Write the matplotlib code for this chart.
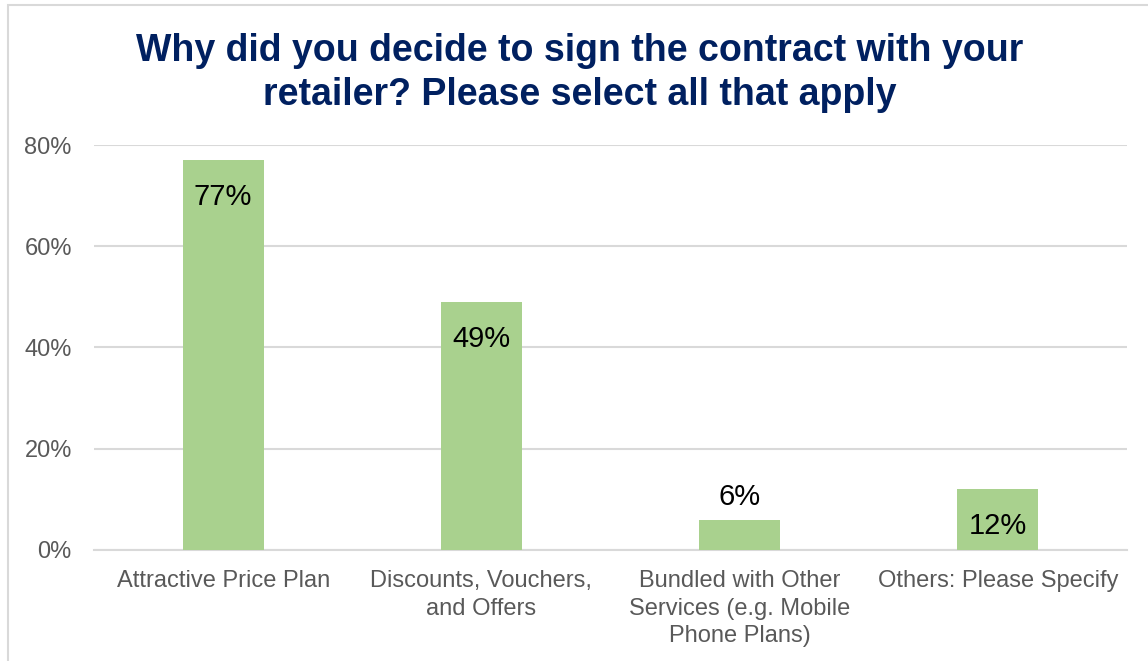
import matplotlib.pyplot as plt
import matplotlib.patches as patches
from matplotlib.ticker import PercentFormatter

# data
categories = ['Attractive Price Plan',
              'Discounts, Vouchers,\nand Offers',
              'Bundled with Other\nServices (e.g. Mobile\nPhone Plans)',
              'Others: Please Specify']
values = [0.77, 0.49, 0.06, 0.12]
labels = ['77%', '49%', '6%', '12%']
yticks = [0, 0.2, 0.4, 0.6, 0.8]

plt.rcParams['font.family'] = ['Liberation Sans', 'DejaVu Sans']

fig = plt.figure(figsize=(11.48, 6.61), dpi=100)
ax = fig.add_axes([0.0819, 0.168, 0.8998, 0.6126])

x = range(len(categories))
ax.bar(x, values, width=0.314, color='#A9D18E', zorder=3)

ax.set_ylim(0, 0.8)
ax.set_xlim(-0.5, len(categories) - 0.5)
ax.set_yticks(yticks)
ax.yaxis.set_major_formatter(PercentFormatter(1.0, decimals=0))
ax.set_xticks(list(x))
ax.set_xticklabels(categories, linespacing=1.32)
ax.tick_params(axis='y', length=0, pad=16, labelsize=17, labelcolor='#595959')
ax.tick_params(axis='x', length=0, pad=14.5, labelsize=17, labelcolor='#595959')
ax.grid(axis='y', color='#D9D9D9', linewidth=1.5, zorder=0)
for s in ['top', 'right', 'left']:
    ax.spines[s].set_visible(False)
ax.spines['bottom'].set_color('#D9D9D9')
ax.spines['bottom'].set_linewidth(1.5)

# value labels: inside the bar top, except the small one goes above
for i, v in enumerate(values):
    if v > 0.1:
        ax.annotate(labels[i], (i, v), xytext=(0, -26.5), textcoords='offset points',
                    ha='center', va='center', fontsize=21, color='black', zorder=4)
    else:
        ax.annotate(labels[i], (i, v), xytext=(0, 16), textcoords='offset points',
                    ha='center', va='center', fontsize=21, color='black', zorder=4)

fig.text(0.505, 0.890, 'Why did you decide to sign the contract with your\nretailer? Please select all that apply',
         ha='center', va='center', fontsize=27, fontweight='bold', color='#002060',
         linespacing=1.3)

# chart border (cut off at right and bottom)
fig.patches.append(patches.Rectangle((8 / 1148, -0.1), 1.2, 1.1 - 5 / 661,
                                     transform=fig.transFigure, fill=False,
                                     edgecolor='#D9D9D9', linewidth=1.5))

fig.savefig('out.png', dpi=100, facecolor='white')
